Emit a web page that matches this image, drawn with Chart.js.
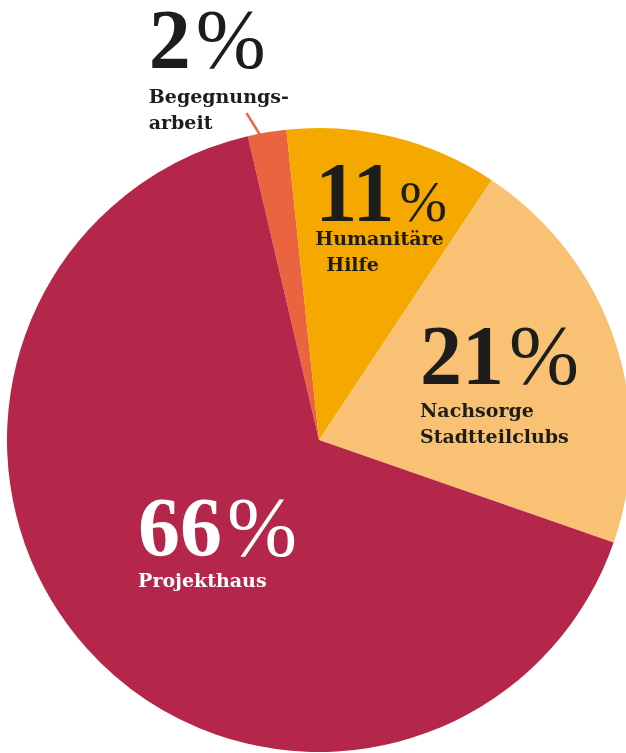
<!DOCTYPE html>
<html>
<head>
<meta charset="utf-8">
<script src="https://cdn.jsdelivr.net/npm/chart.js@4/dist/chart.umd.min.js"></script>
<style>
  html, body { margin: 0; padding: 0; background: #ffffff; overflow: hidden; }
  canvas { display: block; }
</style>
</head>
<body>
<canvas id="pie" width="640" height="760"></canvas>
<script>
"use strict";

const categories = [
  ["Begegnungs-", "arbeit"],
  ["Humanitäre", "Hilfe"],
  ["Nachsorge", "Stadtteilclubs"],
  ["Projekthaus"],
];
const shares = [2, 11, 21, 66];
const sliceColors = ["#e9643f", "#f5a800", "#f9c174", "#b4264a"];

// where each text block sits, relative to the slice's middle angle
const placements = [
  { r: 1.311, da: -15.0, gap: 35, color: "#1d1d1b", pct: 1, indent: [0, 0] },
  { r: 0.702, da: -14.8, gap: 24, color: "#1d1d1b", pct: 0.68, indent: [0, 11] },
  { r: 0.370, da: -10.4, gap: 33, color: "#1d1d1b", pct: 1, indent: [0, 0] },
  { r: 0.689, da: 9.3, gap: 31, color: "#ffffff", pct: 1, indent: [0] },
];

const NUM_FONT = '"Liberation Serif", "DejaVu Serif", serif';
const LABEL_FONT = '"DejaVu Serif", serif';

const deg = (d) => (d * Math.PI) / 180;

const labelPlugin = {
  id: "sliceLabels",
  afterDatasetsDraw(chart) {
    const { ctx } = chart;
    const meta = chart.getDatasetMeta(0);

    meta.data.forEach((arc, i) => {
      const { x, y, startAngle, endAngle, outerRadius } = arc.getProps(
        ["x", "y", "startAngle", "endAngle", "outerRadius"],
        true
      );
      const mid = (startAngle + endAngle) / 2;
      const p = placements[i];

      // leader line for the small outside label
      if (p.r > 1) {
        const a0 = mid + deg(-1.2);
        const a1 = mid + deg(-2.9);
        ctx.save();
        ctx.strokeStyle = sliceColors[i];
        ctx.lineWidth = 2.5;
        ctx.beginPath();
        ctx.moveTo(x + Math.cos(a0) * outerRadius * 0.99, y + Math.sin(a0) * outerRadius * 0.99);
        ctx.lineTo(x + Math.cos(a1) * outerRadius * 1.073, y + Math.sin(a1) * outerRadius * 1.073);
        ctx.stroke();
        ctx.restore();
      }

      const a = mid + deg(p.da);
      const lx = x + Math.cos(a) * outerRadius * p.r;
      const ly = y + Math.sin(a) * outerRadius * p.r;

      ctx.save();
      ctx.fillStyle = p.color;
      ctx.textAlign = "left";
      ctx.textBaseline = "alphabetic";

      const numSize = 84;
      ctx.font = `bold ${numSize}px ${NUM_FONT}`;
      const num = String(shares[i]);
      ctx.fillText(num, lx, ly);
      const w = ctx.measureText(num).width;
      ctx.font = `${Math.round(numSize * p.pct)}px ${NUM_FONT}`;
      ctx.fillText("%", lx + w + 5, ly);

      ctx.font = `bold 19px ${LABEL_FONT}`;
      categories[i].forEach((line, k) => {
        ctx.fillText(line, lx + (p.indent[k] || 0), ly + p.gap + k * 25.5);
      });
      ctx.restore();
    });
  },
};

new Chart(document.getElementById("pie"), {
  type: "pie",
  data: {
    labels: categories.map((c) => c.join(" ")),
    datasets: [
      {
        data: shares,
        backgroundColor: sliceColors,
        borderWidth: 0,
        hoverOffset: 0,
      },
    ],
  },
  options: {
    responsive: false,
    animation: false,
    rotation: -13.2,
    layout: { padding: { left: 7, right: 9, top: 128, bottom: 8 } },
    plugins: {
      legend: { display: false },
      tooltip: { enabled: false },
    },
  },
  plugins: [labelPlugin],
});
</script>
</body>
</html>
